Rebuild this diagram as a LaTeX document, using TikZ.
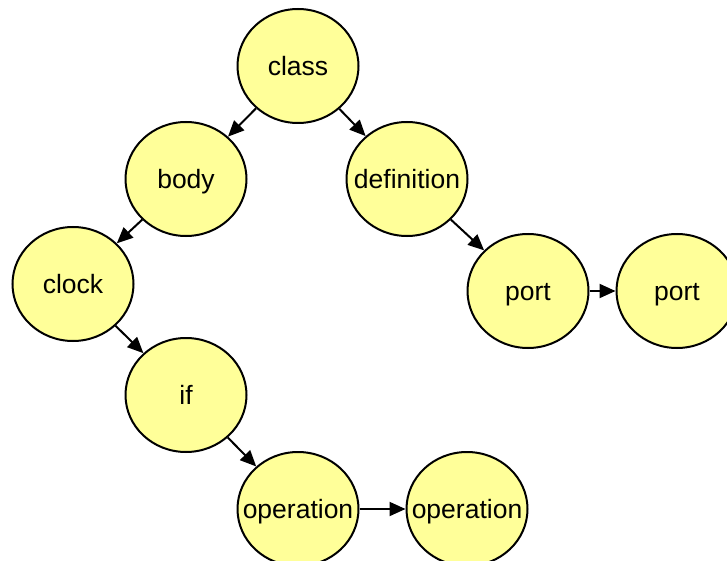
\documentclass[tikz,border=0pt]{standalone}
\usepackage{fontspec}
\setmainfont{Liberation Sans}
\usetikzlibrary{arrows.meta,shapes.geometric}
\definecolor{nodefill}{RGB}{255,255,153}
% zero-width label so the ellipse keeps its own size
\newcommand{\termlabel}[1]{\makebox[0pt][c]{#1}}
\begin{document}
\begin{tikzpicture}[x=1pt,y=-1pt,
  term/.style={ellipse,draw=black,line width=2pt,fill=nodefill,
    minimum width=121pt,minimum height=114pt,inner sep=0pt,
    text height=19pt,text depth=0pt,
    font=\fontsize{26.5}{30}\selectfont},
  link/.style={line width=2pt,-{Triangle[length=16pt,width=14pt]}}]
\useasboundingbox (0,0) rectangle (727,561);
\node[term] (class) at (298,66) {\termlabel{class}};
\node[term] (body) at (186,179) {\termlabel{body}};
\node[term] (def) at (407,179) {\termlabel{definition}};
\node[term] (clock) at (73,284) {\termlabel{clock}};
\node[term] (port) at (528,291) {\termlabel{port}};
\node[term] (port2) at (677,291) {\termlabel{port}};
\node[term] (if) at (186,395) {\termlabel{if}};
\node[term] (op) at (298,509) {\termlabel{operation}};
\node[term] (op2) at (467,509) {\termlabel{operation}};
\draw[link] (class) -- (body);
\draw[link] (class) -- (def);
\draw[link] (body) -- (clock);
\draw[link] (clock) -- (if);
\draw[link] (if) -- (op);
\draw[link] (op) -- (op2);
\draw[link] (def) -- (port);
\draw[link] (port) -- (port2);
\end{tikzpicture}
\end{document}
